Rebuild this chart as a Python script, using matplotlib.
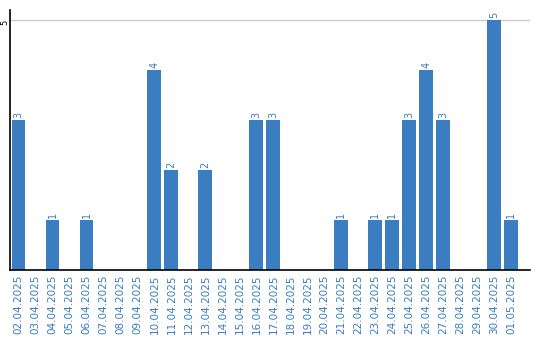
import matplotlib.pyplot as plt
import numpy as np

dates = ['02.04.2025', '03.04.2025', '04.04.2025', '05.04.2025', '06.04.2025',
         '07.04.2025', '08.04.2025', '09.04.2025', '10.04.2025', '11.04.2025',
         '12.04.2025', '13.04.2025', '14.04.2025', '15.04.2025', '16.04.2025',
         '17.04.2025', '18.04.2025', '19.04.2025', '20.04.2025', '21.04.2025',
         '22.04.2025', '23.04.2025', '24.04.2025', '25.04.2025', '26.04.2025',
         '27.04.2025', '28.04.2025', '29.04.2025', '30.04.2025', '01.05.2025']
counts = [3, 0, 1, 0, 1, 0, 0, 0, 4, 2, 0, 2, 0, 0, 3,
          3, 0, 0, 0, 1, 0, 1, 1, 3, 4, 3, 0, 0, 5, 1]

blue = '#3a7dc1'

fig = plt.figure(figsize=(5.4, 3.4), dpi=100)
ax = fig.add_axes([10 / 540, 70 / 340, 520 / 540, 260 / 340])

x = np.arange(len(dates))
ax.bar(x, counts, width=0.82, color=blue, zorder=2)

for xi, v in zip(x, counts):
    if v > 0:
        ax.text(xi, v + 0.05, str(v), rotation=90, ha='center', va='bottom',
                color=blue, fontsize=7, clip_on=False)

# bars fill 30 slots of ~17px, the axis line runs a bit further right
ax.set_xlim(-0.5, 30.1)
ax.set_ylim(0, 5.2)
ax.set_yticks([5])
ax.set_yticklabels(['5'], rotation=90, va='top', ha='center', fontsize=6)
ax.grid(axis='y', color='#cccccc', linewidth=1, zorder=0)

ax.set_xticks(x)
ax.set_xticklabels(dates, rotation=90, color=blue, fontsize=7.5)
ax.tick_params(length=0, pad=3)
ax.tick_params(axis='y', pad=4)

for s in ['top', 'right']:
    ax.spines[s].set_visible(False)
ax.spines['left'].set_linewidth(1.2)
ax.spines['bottom'].set_linewidth(1.2)

fig.savefig('out.png', dpi=100)
